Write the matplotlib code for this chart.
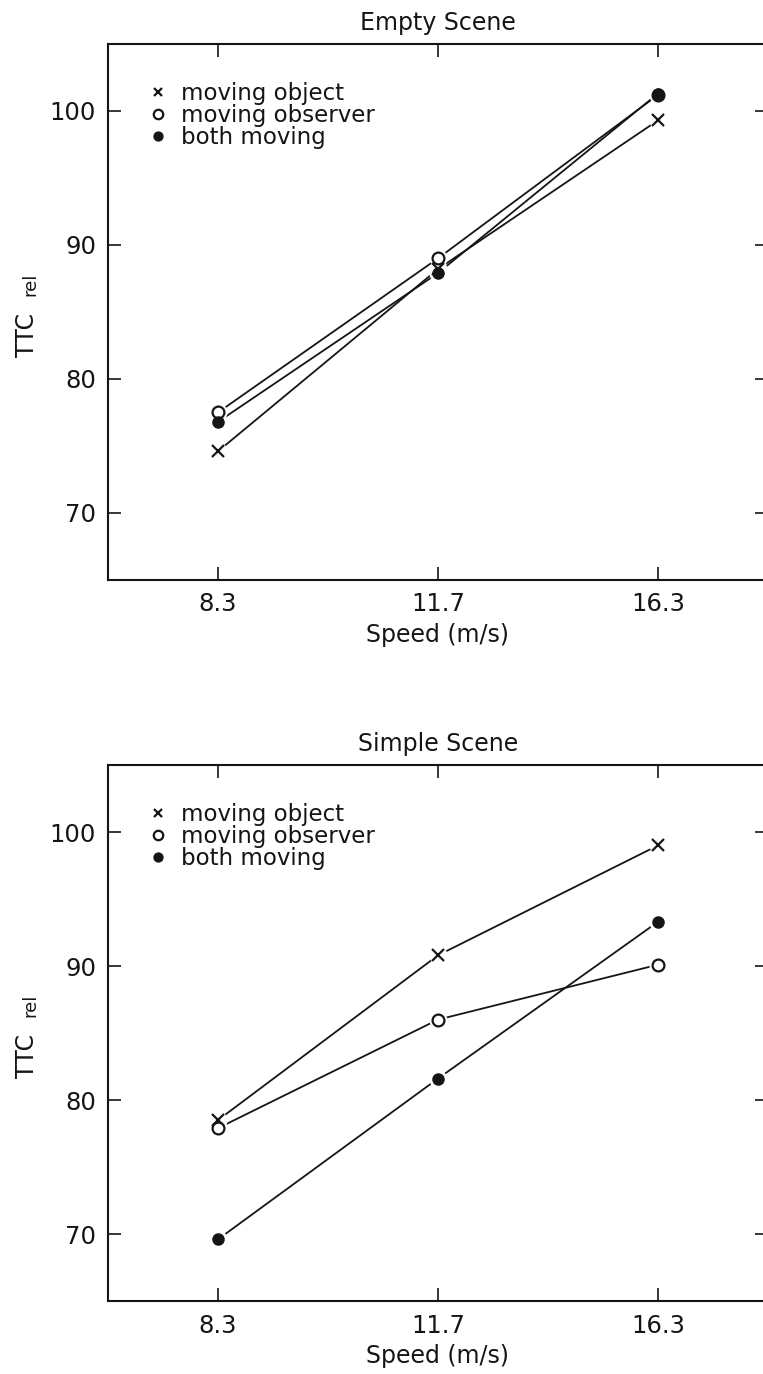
import matplotlib.pyplot as plt
from matplotlib.lines import Line2D

# Speeds on the x axis (plotted as evenly spaced categories)
speeds = ['8.3', '11.7', '16.3']
series_labels = ['moving object', 'moving observer', 'both moving']

# Empty scene, TTC rel per speed
empty_object = [74.6, 88.2, 99.3]
empty_observer = [77.5, 89.0, 101.2]
empty_both = [76.8, 87.9, 101.3]

# Simple scene, TTC rel per speed
simple_object = [78.5, 90.8, 99.0]
simple_observer = [77.9, 86.0, 90.1]
simple_both = [69.6, 81.6, 93.3]

yticks = [70, 80, 90, 100]

INK = '#151515'

# marker style per series: object, observer, both
marker_styles = [
    dict(marker='x', ms=8, mew=1.6, mec=INK, mfc=INK),
    dict(marker='o', ms=8.5, mew=1.6, mec=INK, mfc='white'),
    dict(marker='o', ms=8, mew=1.0, mec=INK, mfc=INK),
]


def draw_panel(ax, title, series):
    xs = list(range(len(speeds)))

    # connecting lines
    for values in series:
        ax.plot(xs, values, color=INK, lw=1.3, zorder=2)
    # white halos so lines stop short of the symbols
    for values in series:
        ax.plot(xs, values, ls='none', marker='o', ms=12, mfc='white',
                mec='white', zorder=3)
    # symbols
    for values, style in zip(series, marker_styles):
        ax.plot(xs, values, ls='none', zorder=4, **style)

    ax.set_xlim(-0.5, 2.5)
    ax.set_ylim(65, 105)
    ax.set_xticks(xs)
    ax.set_xticklabels(speeds)
    ax.set_yticks(yticks)

    ax.tick_params(direction='in', length=9.5, width=1.2, color=INK,
                   labelcolor=INK, labelsize=17.5, top=True, right=True)
    ax.tick_params(axis='x', pad=9)
    ax.tick_params(axis='y', pad=8.5)
    for sp in ax.spines.values():
        sp.set_linewidth(1.5)
        sp.set_color(INK)

    ax.set_title(title, fontsize=17, color=INK, pad=10)
    ax.set_xlabel('Speed (m/s)', fontsize=17, color=INK, labelpad=5)
    ax.set_ylabel('TTC', fontsize=17, color=INK)
    ax.yaxis.set_label_coords(-0.1045, 0.457)
    ax.annotate('rel', xy=(1, 1), xycoords=ax.yaxis.label,
                xytext=(0, 12), textcoords='offset points',
                rotation=90, rotation_mode='anchor', ha='left', va='bottom',
                fontsize=13, color=INK)

    handles = [Line2D([], [], ls='none', **dict(style, ms=style['ms'] * 0.8))
               for style in marker_styles]
    ax.legend(handles, series_labels, loc='upper left',
              bbox_to_anchor=(0.058, 0.929), borderaxespad=0, borderpad=0,
              frameon=False, fontsize=16.5, handlelength=1.0,
              handletextpad=0.5, labelspacing=-0.04, labelcolor=INK)


fig = plt.figure(figsize=(7.63, 13.74), dpi=100)
ax_top = fig.add_axes([0.1415, 0.5779, 0.865, 0.3901])
ax_bot = fig.add_axes([0.1415, 0.0531, 0.865, 0.3901])

draw_panel(ax_top, 'Empty Scene', [empty_object, empty_observer, empty_both])
draw_panel(ax_bot, 'Simple Scene', [simple_object, simple_observer, simple_both])

fig.savefig('out.png', dpi=100)
